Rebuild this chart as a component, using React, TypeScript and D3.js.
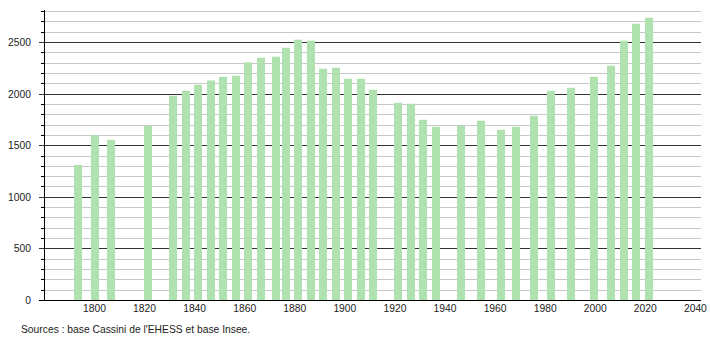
import React from "react";
import * as d3 from "d3";

const years = [1793, 1800, 1806, 1821, 1831, 1836, 1841, 1846, 1851, 1856, 1861, 1866, 1872, 1876, 1881, 1886, 1891, 1896, 1901, 1906, 1911, 1921, 1926, 1931, 1936, 1946, 1954, 1962, 1968, 1975, 1982, 1990, 1999, 2006, 2011, 2016, 2021];
const population = [1309, 1597, 1552, 1688, 1979, 2027, 2085, 2127, 2163, 2173, 2302, 2347, 2357, 2444, 2522, 2512, 2241, 2250, 2144, 2144, 2037, 1911, 1901, 1746, 1678, 1688, 1736, 1649, 1678, 1785, 2027, 2056, 2163, 2270, 2512, 2677, 2735];
const yMajorTicks = [0, 500, 1000, 1500, 2000, 2500];
const xTickYears = [1800, 1820, 1840, 1860, 1880, 1900, 1920, 1940, 1960, 1980, 2000, 2020, 2040];
const sourceText = "Sources : base Cassini de l'EHESS et base Insee.";

const W = 710;
const H = 340;
const left = 44;
const right = 701;
const base = 300;
const top = 10;

export default function App() {
  const x = d3.scaleLinear().domain([1780, 2040]).range([45.4, 696.4]);
  const y = d3.scaleLinear().domain([0, 2800]).range([base, 11]);
  const minor = d3.range(100, 2801, 100).filter((v) => v % 500 !== 0);
  const font = "'Liberation Sans', Arial, sans-serif";
  const py = (v: number) => Math.round(y(v)) + 0.5;
  return (
    <svg
      width={W}
      height={H}
      style={{ position: "absolute", left: 0, top: 0, background: "#fff" }}
      fontFamily={font}
    >
      {minor.map((v) => (
        <g key={"m" + v}>
          <line x1={left} x2={right} y1={py(v)} y2={py(v)} stroke="#c8c8c8" strokeWidth={1} />
          <line x1={left - 3} x2={left} y1={py(v)} y2={py(v)} stroke="#000" strokeWidth={1} />
        </g>
      ))}
      {yMajorTicks.map((v) => (
        <g key={"M" + v}>
          <line x1={left - 5} x2={right} y1={py(v)} y2={py(v)} stroke={v === 0 ? "#000" : "#333"} strokeWidth={1} />
          <text x={31} y={py(v)} dy="0.35em" textAnchor="end" fontSize={10.3} fill="#222">
            {v}
          </text>
        </g>
      ))}
      {years.map((yr, i) => (
        <rect
          key={yr}
          x={Math.round(x(yr) - 4)}
          y={y(population[i])}
          width={8}
          height={base - y(population[i])}
          fill="#afe2af"
        />
      ))}
      <line x1={left + 0.5} x2={left + 0.5} y1={top} y2={base + 0.5} stroke="#000" strokeWidth={1} />
      <line x1={left - 5} x2={right} y1={base + 0.5} y2={base + 0.5} stroke="#000" strokeWidth={1} />
      {xTickYears.map((yr) => (
        <text key={"x" + yr} x={x(yr) - 1} y={312} textAnchor="middle" fontSize={10.3} fill="#222">
          {yr}
        </text>
      ))}
      <text x={21} y={333} fontSize={10.3} fill="#222">
        {sourceText}
      </text>
    </svg>
  );
}
